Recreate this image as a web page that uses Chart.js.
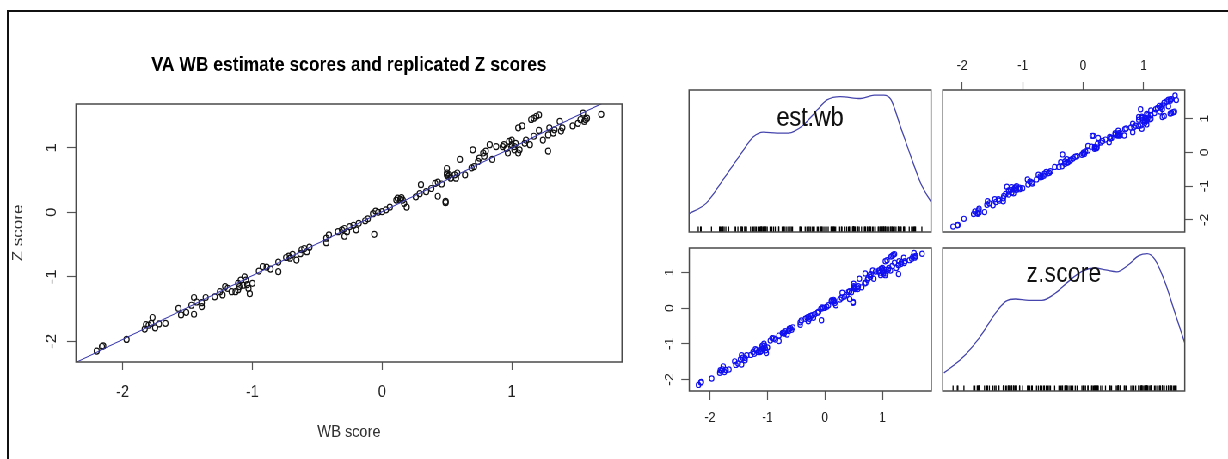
<!DOCTYPE html>
<html>
<head>
<meta charset="utf-8">
<script src="https://cdn.jsdelivr.net/npm/chart.js@4.4.1/dist/chart.umd.min.js"></script>
<style>
  html, body { margin: 0; padding: 0; background: #fff; width: 1228px; height: 459px; overflow: hidden; }
  #frame { position: absolute; left: 7px; top: 10px; width: 1300px; height: 600px; border: 2px solid #111; box-sizing: border-box; }
  #fig { position: absolute; left: 0; top: 0; width: 1428px; height: 459px; transform-origin: 0 0; }
  #fig canvas { position: absolute; }
</style>
</head>
<body>
<div id="frame"></div>
<div id="fig">
  <canvas id="main"></canvas>
  <canvas id="densWb"></canvas>
  <canvas id="pairTR"></canvas>
  <canvas id="pairBL"></canvas>
  <canvas id="densZ"></canvas>
</div>
<script>
// the source picture is squeezed sideways, so the figure is drawn wider and scaled back
const SX = 0.86;
const P = v => v / SX;
const FAMILY = '"Liberation Sans", Arial, Helvetica, sans-serif';

// est.wb (WB score) and z.score
const wbScore = [
  -2.20, -2.16, -2.15, -1.97,
  -1.83, -1.82, -1.80, -1.77, -1.75, -1.72, -1.67, -1.78,
  -1.57, -1.55, -1.51, -1.45, -1.45, -1.43, -1.39, -1.39, -1.36, -1.47,
  -1.29, -1.25, -1.23, -1.21, -1.19, -1.16, -1.13, -1.11, -1.10, -1.09, -1.06, -1.05, -1.04, -1.03, -1.02, -1.00, -1.11, -1.07,
  -0.95, -0.92, -0.89, -0.86, -0.80, -0.80,
  -0.74, -0.72, -0.71, -0.69, -0.66, -0.62, -0.60, -0.58, -0.56, -0.63,
  -0.43, -0.41, -0.43,
  -0.34, -0.31, -0.29, -0.27, -0.25, -0.22, -0.20, -0.29, -0.18, -0.13, -0.11, -0.06,
  -0.07, -0.05, -0.03, 0.00, 0.03, 0.06,
  0.11, 0.12, 0.14, 0.15, 0.16, 0.19, 0.17,
  0.26, 0.29, 0.30, 0.34, 0.38, 0.41, 0.43, 0.46, 0.43, 0.49, 0.49, 0.50, 0.50,
  0.50, 0.51, 0.52, 0.53, 0.56, 0.57, 0.58, 0.60, 0.64,
  0.69, 0.70, 0.71, 0.74, 0.75, 0.78, 0.79, 0.80, 0.83, 0.85, 0.88,
  0.93, 0.94, 0.96, 0.97, 0.98, 1.00, 1.00, 1.02, 1.02, 1.03, 1.05, 1.06, 1.05, 1.08,
  1.10, 1.11, 1.14, 1.15, 1.17, 1.17, 1.19, 1.21, 1.21, 1.24, 1.28, 1.29, 1.28, 1.32, 1.33,
  1.37, 1.38, 1.39, 1.47, 1.51, 1.53, 1.55, 1.56, 1.57, 1.58, 1.69
];
const zScore = [
  -2.15, -2.08, -2.07, -1.97,
  -1.81, -1.74, -1.75, -1.63, -1.79, -1.73, -1.72, -1.72,
  -1.49, -1.59, -1.55, -1.32, -1.58, -1.39, -1.46, -1.40, -1.32, -1.44,
  -1.31, -1.23, -1.28, -1.15, -1.18, -1.23, -1.23, -1.10, -1.15, -1.05, -1.00, -1.05, -1.12, -1.18, -1.26, -1.10, -1.20, -1.13,
  -0.91, -0.84, -0.85, -0.88, -0.77, -0.92,
  -0.70, -0.68, -0.71, -0.65, -0.74, -0.58, -0.56, -0.61, -0.54, -0.64,
  -0.40, -0.35, -0.47,
  -0.30, -0.27, -0.25, -0.30, -0.22, -0.20, -0.27, -0.37, -0.17, -0.13, -0.10, -0.34,
  -0.02, 0.02, 0.00, 0.01, 0.04, 0.08,
  0.19, 0.22, 0.20, 0.23, 0.19, 0.08, 0.14,
  0.24, 0.29, 0.43, 0.32, 0.37, 0.45, 0.47, 0.44, 0.25, 0.17, 0.15, 0.68, 0.58,
  0.61, 0.56, 0.58, 0.53, 0.58, 0.53, 0.61, 0.82, 0.58,
  0.69, 0.97, 0.71, 0.79, 0.84, 0.92, 0.87, 0.95, 1.05, 0.82, 1.02,
  1.02, 1.05, 0.99, 0.92, 1.10, 1.12, 1.05, 1.02, 0.97, 1.07, 0.92, 0.97, 1.31, 1.34,
  1.07, 1.12, 1.05, 1.44, 1.18, 1.46, 1.49, 1.51, 1.27, 1.12, 1.20, 1.31, 0.95, 1.23, 1.28,
  1.41, 1.26, 1.31, 1.34, 1.38, 1.44, 1.54, 1.41, 1.44, 1.46, 1.52
];

// axis limits and tick labels
const wbRange = [-2.36, 1.85];
const zRange = [-2.32, 1.68];
const axisTicks = [-2, -1, 0, 1];

// fitted line z = a + b * wb
const fitIntercept = 0.01;
const fitSlope = 0.99;

// kernel density curves on the diagonal
const wbDensX = [-2.37, -2.06, -1.77, -1.47, -1.24, -1.07, -0.83, -0.63, -0.37, -0.13, 0.04, 0.27, 0.62, 0.86, 1.03, 1.15, 1.32, 1.50, 1.67, 1.86];
const wbDensY = [0.038, 0.061, 0.110, 0.163, 0.201, 0.211, 0.209, 0.209, 0.226, 0.258, 0.279, 0.286, 0.282, 0.289, 0.289, 0.280, 0.222, 0.159, 0.103, 0.061];
const zDensX = [-2.30, -2.00, -1.72, -1.45, -1.28, -1.12, -0.90, -0.68, -0.46, -0.24, -0.02, 0.20, 0.37, 0.56, 0.75, 0.92, 1.06, 1.19, 1.36, 1.52, 1.69];
const zDensY = [0.038, 0.069, 0.111, 0.163, 0.188, 0.193, 0.190, 0.190, 0.205, 0.230, 0.251, 0.258, 0.254, 0.250, 0.265, 0.284, 0.288, 0.275, 0.226, 0.163, 0.097];
const densRange = [0, 0.30];
const rugLevel = 0.0058;

Chart.defaults.font.family = FAMILY;
Chart.defaults.animation = false;
Chart.defaults.events = [];
Chart.defaults.plugins.legend.display = false;
Chart.defaults.plugins.tooltip.enabled = false;

document.getElementById('fig').style.transform = 'scaleX(' + SX + ')';

const boxFrame = {
  id: 'boxFrame',
  afterDatasetsDraw(chart) {
    const { ctx, chartArea: a } = chart;
    ctx.save();
    ctx.strokeStyle = '#4a4a4a';
    ctx.lineWidth = 1.5;
    ctx.strokeRect(a.left, a.top, a.right - a.left, a.bottom - a.top);
    ctx.restore();
  }
};

const panelLabel = {
  id: 'panelLabel',
  afterDatasetsDraw(chart, args, o) {
    if (!o || !o.text) return;
    const { ctx, chartArea: a } = chart;
    ctx.save();
    ctx.font = o.size + 'px ' + FAMILY;
    ctx.fillStyle = '#111';
    ctx.textAlign = 'center';
    ctx.textBaseline = 'alphabetic';
    ctx.fillText(o.text, (a.left + a.right) / 2, a.top + o.baseline);
    ctx.restore();
  }
};

// size a canvas so its plot area lands on box (picture pixels); returns side sizes
function setup(id, box, m) {
  const cv = document.getElementById(id);
  const w = Math.ceil(P(box.r - box.l + m.l + m.r));
  const h = Math.ceil(box.b - box.t + m.t + m.b);
  cv.width = w;
  cv.height = h;
  cv.style.left = P(box.l - m.l) + 'px';
  cv.style.top = (box.t - m.t) + 'px';
  cv.style.width = w + 'px';
  cv.style.height = h + 'px';
  return {
    cv,
    l: P(m.l),
    t: m.t,
    r: w - P(m.l) - P(box.r - box.l),
    b: h - m.t - (box.b - box.t)
  };
}

function linAxis(pos, range, size, t) {
  if (!t) return { type: 'linear', display: false, min: range[0], max: range[1] };
  const horiz = pos === 'top' || pos === 'bottom';
  return {
    type: 'linear',
    position: pos,
    min: range[0],
    max: range[1],
    afterBuildTicks: s => { s.ticks = axisTicks.map(v => ({ value: v })); },
    afterFit: s => { if (horiz) s.height = size; else s.width = size; },
    grid: { drawOnChartArea: false, drawTicks: true, tickLength: t.len, tickColor: '#555', tickWidth: 1.2 },
    border: { display: false },
    ticks: {
      font: { family: FAMILY, size: t.size },
      color: '#222',
      padding: t.pad,
      minRotation: horiz ? 0 : 90,
      maxRotation: horiz ? 0 : 90,
      crossAlign: horiz ? 'near' : 'center',
      callback: v => String(v)
    },
    title: t.title || { display: false }
  };
}

function pts(xs, ys) { return xs.map((x, i) => ({ x, y: ys[i] })); }

function baseOpts(padding, scales, plugins) {
  return {
    responsive: false,
    maintainAspectRatio: false,
    layout: { padding },
    scales,
    plugins: Object.assign({ legend: { display: false } }, plugins || {})
  };
}

// ---- main scatter ----
const sm = setup('main', { l: 76, t: 104, r: 622, b: 362 }, { l: 76, t: 104, r: 30, b: 97 });
const titleTop = 52.8;
new Chart(sm.cv, {
  type: 'scatter',
  data: {
    datasets: [
      {
        type: 'line',
        data: wbRange.map(x => ({ x, y: fitIntercept + fitSlope * x })),
        borderColor: '#3b3bb0',
        borderWidth: 1.1,
        pointRadius: 0,
        tension: 0
      },
      {
        data: pts(wbScore, zScore),
        pointStyle: 'circle',
        pointRadius: 3,
        borderColor: '#111',
        borderWidth: 1.2,
        backgroundColor: 'rgba(0,0,0,0)',
        clip: false
      }
    ]
  },
  options: baseOpts({ left: 0, top: 0, right: sm.r, bottom: 0 }, {
    x: linAxis('bottom', wbRange, sm.b, {
      len: 8, size: 17, pad: 12.3,
      title: { display: true, text: 'WB score', color: '#333', font: { family: FAMILY, size: 17 }, padding: { top: 0, bottom: 16.8 } }
    }),
    y: linAxis('left', zRange, sm.l, {
      len: P(9), size: 17, pad: 10.4,
      title: { display: true, text: 'Z score', color: '#333', font: { family: FAMILY, size: 17 }, padding: { top: P(18) - 10.2, bottom: 0 } }
    })
  }, {
    title: {
      display: true,
      fullSize: false,
      text: 'VA WB estimate scores and replicated Z scores',
      color: '#000',
      font: { family: FAMILY, size: 20.4, weight: 'bold', lineHeight: 1.2 },
      padding: { top: titleTop, bottom: sm.t - titleTop - 20.4 * 1.2 }
    }
  }),
  plugins: [boxFrame]
});

// ---- pairs: density of est.wb (top left) ----
const s1 = setup('densWb', { l: 689, t: 90, r: 931, b: 232 }, { l: 20, t: 20, r: 20, b: 20 });
new Chart(s1.cv, {
  type: 'scatter',
  data: {
    datasets: [
      {
        type: 'line', data: pts(wbDensX, wbDensY), borderColor: '#4545ad', borderWidth: 1.3,
        pointRadius: 0, cubicInterpolationMode: 'monotone'
      },
      {
        data: wbScore.map(x => ({ x, y: rugLevel })), pointStyle: 'line', rotation: 90,
        pointRadius: 2.8, borderColor: '#000', borderWidth: 1.3
      }
    ]
  },
  options: baseOpts({ left: s1.l, top: s1.t, right: s1.r, bottom: s1.b }, {
    x: linAxis('bottom', wbRange),
    y: linAxis('left', densRange)
  }, { panelLabel: { text: 'est.wb', size: 27, baseline: 36 } }),
  plugins: [boxFrame, panelLabel]
});

// ---- pairs: est.wb against z.score (top right) ----
const s2 = setup('pairTR', { l: 943, t: 90, r: 1185, b: 232 }, { l: 20, t: 50, r: 43, b: 20 });
new Chart(s2.cv, {
  type: 'scatter',
  data: {
    datasets: [{
      data: pts(zScore, wbScore), pointStyle: 'circle', pointRadius: 2.6,
      borderColor: '#1010f0', borderWidth: 1.2, backgroundColor: 'rgba(0,0,0,0)', clip: false
    }]
  },
  options: baseOpts({ left: s2.l, top: 0, right: 0, bottom: s2.b }, {
    x: linAxis('top', zRange, s2.t, { len: 8, size: 14, pad: 7.4 }),
    y: linAxis('right', wbRange, s2.r, { len: P(8), size: 14, pad: 8.1 })
  }),
  plugins: [boxFrame]
});

// ---- pairs: z.score against est.wb (bottom left) ----
const s3 = setup('pairBL', { l: 689, t: 248, r: 931, b: 391 }, { l: 40, t: 20, r: 20, b: 60 });
new Chart(s3.cv, {
  type: 'scatter',
  data: {
    datasets: [{
      data: pts(wbScore, zScore), pointStyle: 'circle', pointRadius: 2.6,
      borderColor: '#1010f0', borderWidth: 1.2, backgroundColor: 'rgba(0,0,0,0)', clip: false
    }]
  },
  options: baseOpts({ left: 0, top: s3.t, right: s3.r, bottom: 0 }, {
    x: linAxis('bottom', wbRange, s3.b, { len: 9, size: 14, pad: 9.9 }),
    y: linAxis('left', zRange, s3.l, { len: P(8), size: 14, pad: 6.6 })
  }),
  plugins: [boxFrame]
});

// ---- pairs: density of z.score (bottom right) ----
const s4 = setup('densZ', { l: 943, t: 248, r: 1185, b: 391 }, { l: 20, t: 20, r: 20, b: 20 });
new Chart(s4.cv, {
  type: 'scatter',
  data: {
    datasets: [
      {
        type: 'line', data: pts(zDensX, zDensY), borderColor: '#4545ad', borderWidth: 1.3,
        pointRadius: 0, cubicInterpolationMode: 'monotone'
      },
      {
        data: zScore.map(x => ({ x, y: rugLevel })), pointStyle: 'line', rotation: 90,
        pointRadius: 2.8, borderColor: '#000', borderWidth: 1.3
      }
    ]
  },
  options: baseOpts({ left: s4.l, top: s4.t, right: s4.r, bottom: s4.b }, {
    x: linAxis('bottom', zRange),
    y: linAxis('left', densRange)
  }, { panelLabel: { text: 'z.score', size: 27, baseline: 33.5 } }),
  plugins: [boxFrame, panelLabel]
});
</script>
</body>
</html>
